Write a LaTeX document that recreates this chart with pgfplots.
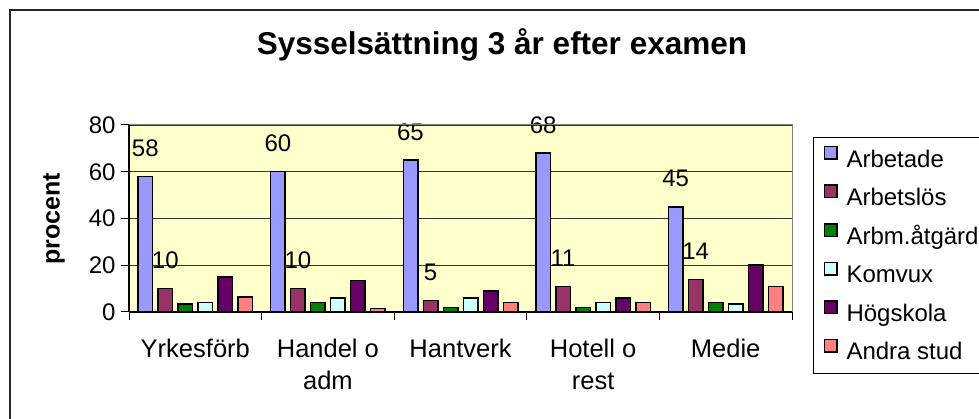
\documentclass[border=0pt]{standalone}
\usepackage{fontspec}
\setmainfont{Liberation Sans}
\usepackage{pgfplots}
\pgfplotsset{compat=1.18}

\definecolor{cArbetade}{HTML}{9999FF}
\definecolor{cArbetslos}{HTML}{993366}
\definecolor{cArbm}{HTML}{008000}
\definecolor{cKomvux}{HTML}{CCFFFF}
\definecolor{cHogskola}{HTML}{660066}
\definecolor{cAndra}{HTML}{FF8080}
\definecolor{plotbg}{HTML}{FFFFCC}

\begin{document}
\begin{tikzpicture}
\useasboundingbox (0,0) rectangle (979pt,419pt);
\clip (0,0) rectangle (979pt,419pt);
% outer chart frame (runs off the right and bottom edge)
\draw[line width=2pt, black!85] (10pt,-20pt) rectangle (1000pt,409pt);
\node[anchor=base, font=\fontsize{31.5}{36}\selectfont\bfseries] at (502pt,364pt)
  {Sysselsättning 3 år efter examen};
\node[rotate=90, font=\fontsize{25}{30}\selectfont\bfseries] at (54pt,200pt) {procent};

\begin{axis}[
    at={(129pt,107pt)}, anchor=south west,
    scale only axis, width=663pt, height=187pt,
    /pgf/number format/assume math mode=true,
    ybar=5.5pt, bar width=14.5pt,
    xmin=-0.5, xmax=4.5, ymin=0, ymax=80,
    enlarge x limits=false,
    xtick={0,1,2,3,4},
    xticklabels={Yrkesförb, {Handel o\\adm}, Hantverk, {Hotell o\\rest}, Medie},
    minor xtick={-0.5,0.5,1.5,2.5,3.5,4.5},
    ytick={0,20,40,60,80},
    axis lines*=left,
    axis line style={black, line width=1.3pt},
    tick align=outside,
    major tick length=8pt, minor tick length=8pt,
    major x tick style={draw=none},
    minor x tick style={black, line width=1pt},
    ytick style={black, line width=1pt},
    ymajorgrids,
    grid style={black!80, line width=0.8pt},
    axis background/.style={fill=plotbg},
    yticklabel style={font=\fontsize{24}{28}\selectfont, xshift=-2pt},
    xticklabel style={font=\fontsize{25.5}{32.5}\selectfont, align=center, yshift=-15pt},
    clip=false,
    after end axis/.code={
      \draw[gray, line width=1pt] (rel axis cs:0,1) -- (rel axis cs:1,1) -- (rel axis cs:1,0);
    },
    legend image code/.code={
      \draw[#1, line width=1.5pt] (0.75pt,1.75pt) rectangle (13.25pt,14.25pt);
    },
    legend style={
      at={(1.0317,0.9358)}, anchor=north west,
      draw=black, line width=1pt,
      font=\fontsize{24}{28}\selectfont,
      inner xsep=10pt, inner ysep=8.5pt,
      row sep=12.5pt, column sep=9pt,
      nodes={text height=17pt, text depth=5pt, inner ysep=0pt, inner xsep=0pt},
    },
    legend cell align=left,
    nodes near coords style={font=\fontsize{24}{28}\selectfont, anchor=south, inner sep=0pt, yshift=19pt},
]
\addplot[fill=cArbetade, draw=black, line width=1.5pt, nodes near coords]
  coordinates {(0,58) (1,60) (2,65) (3,68) (4,45)};
\addlegendentry{Arbetade}
\addplot[fill=cArbetslos, draw=black, line width=1.5pt, nodes near coords]
  coordinates {(0,10) (1,10) (2,5) (3,11) (4,14)};
\addlegendentry{Arbetslös}
\addplot[fill=cArbm, draw=black, line width=1.5pt]
  coordinates {(0,3.5) (1,4) (2,2) (3,2) (4,4)};
\addlegendentry{Arbm.åtgärd}
\addplot[fill=cKomvux, draw=black, line width=1.5pt]
  coordinates {(0,4) (1,6) (2,6) (3,4) (4,3.5)};
\addlegendentry{Komvux}
\addplot[fill=cHogskola, draw=black, line width=1.5pt]
  coordinates {(0,15) (1,13.5) (2,9) (3,6) (4,20)};
\addlegendentry{Högskola}
\addplot[fill=cAndra, draw=black, line width=1.5pt]
  coordinates {(0,6.5) (1,1.5) (2,4) (3,4) (4,11)};
\addlegendentry{Andra stud}
\end{axis}
\end{tikzpicture}
\end{document}
